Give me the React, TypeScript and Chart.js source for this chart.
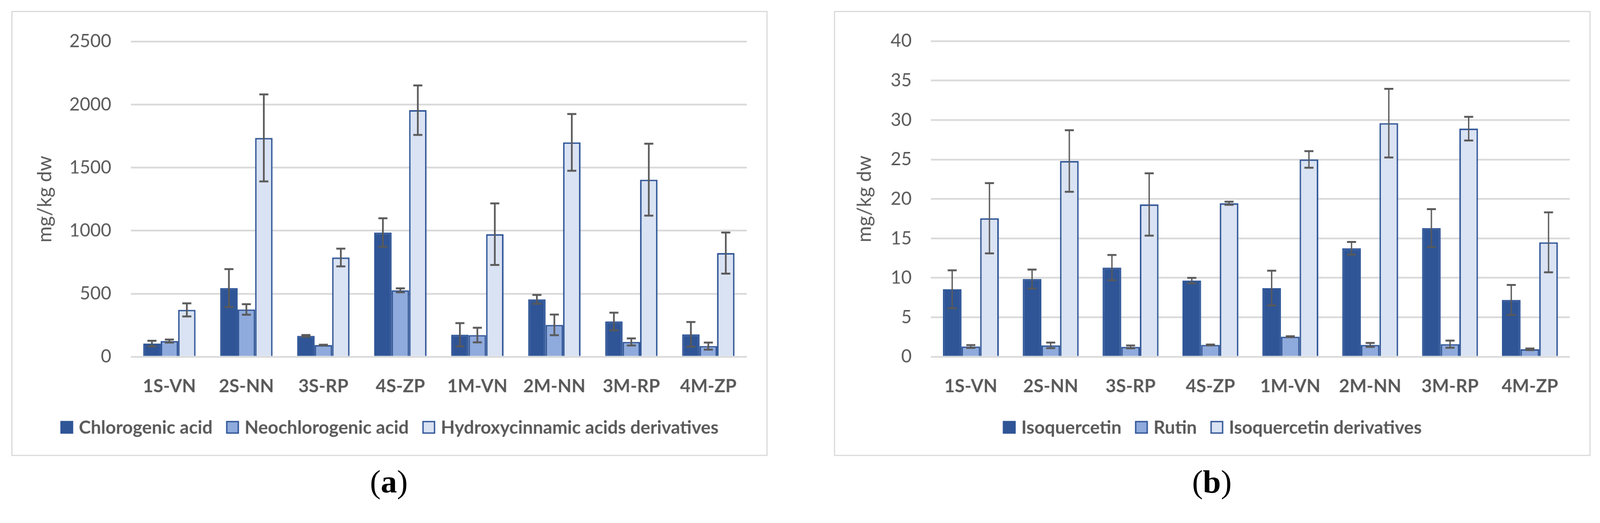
import React, { useEffect, useRef } from 'react';
import { Chart, registerables } from 'chart.js';

Chart.register(...registerables);

const FONT = 'Lato, "Open Sans", "DejaVu Sans", sans-serif';
const TEXT = '#595959';
const GRID = '#D9D9D9';
const DARK = '#2F5597';
const MID = '#8FAADC';
const LIGHT = '#DAE3F3';

// ---------- shared categories ----------
const categories = ['1S-VN', '2S-NN', '3S-RP', '4S-ZP', '1M-VN', '2M-NN', '3M-RP', '4M-ZP'];

// ---------- panel (a) ----------
const seriesNamesA = ['Chlorogenic acid', 'Neochlorogenic acid', 'Hydroxycinnamic acids derivatives'];
const chlorogenicAcid = [105, 545, 166, 985, 175, 455, 280, 178];
const chlorogenicAcidErr = [22, 150, 7, 113, 92, 35, 70, 98];
const neochlorogenicAcid = [125, 375, 93, 527, 172, 253, 118, 85];
const neochlorogenicAcidErr = [12, 42, 3, 16, 58, 82, 28, 28];
const hydroxycinnamicDerivatives = [372, 1735, 787, 1955, 972, 1700, 1404, 822];
const hydroxycinnamicDerivativesErr = [52, 345, 70, 196, 244, 225, 285, 163];
const yMaxA = 2500;
const yStepA = 500;

// ---------- panel (b) ----------
const seriesNamesB = ['Isoquercetin', 'Rutin', 'Isoquercetin derivatives'];
const isoquercetin = [8.55, 9.85, 11.3, 9.65, 8.7, 13.75, 16.3, 7.2];
const isoquercetinErr = [2.4, 1.2, 1.6, 0.35, 2.2, 0.8, 2.4, 1.9];
const rutin = [1.3, 1.45, 1.25, 1.5, 2.55, 1.5, 1.6, 0.95];
const rutinErr = [0.18, 0.35, 0.18, 0.05, 0.05, 0.25, 0.45, 0.1];
const isoquercetinDerivatives = [17.55, 24.8, 19.3, 19.45, 25.0, 29.6, 28.9, 14.5];
const isoquercetinDerivativesErr = [4.45, 3.9, 3.95, 0.2, 1.05, 4.35, 1.5, 3.8];
const yMaxB = 40;
const yStepB = 5;

const yTitle = 'mg/kg dw';

// ---------- plugins ----------
const framePlugin = {
  id: 'frame',
  beforeDraw(chart: any) {
    const { ctx, width, height } = chart;
    ctx.save();
    ctx.fillStyle = '#ffffff';
    ctx.fillRect(0, 0, width, height);
    ctx.strokeStyle = GRID;
    ctx.lineWidth = 3;
    ctx.strokeRect(1.5, 1.5, width - 3, height - 3);
    ctx.restore();
  },
};

const errorBarPlugin = {
  id: 'errorBars',
  afterDatasetsDraw(chart: any, _args: any, opts: any) {
    const { ctx } = chart;
    const y = chart.scales.y;
    ctx.save();
    ctx.strokeStyle = opts.color;
    ctx.lineCap = 'butt';
    chart.data.datasets.forEach((ds: any, di: number) => {
      const errs = ds.errors as number[] | undefined;
      if (!errs) return;
      const meta = chart.getDatasetMeta(di);
      meta.data.forEach((el: any, i: number) => {
        const v = ds.data[i];
        const e = errs[i];
        const x = el.x;
        const yt = y.getPixelForValue(v + e);
        const yb = y.getPixelForValue(Math.max(v - e, 0));
        ctx.lineWidth = opts.stemWidth;
        ctx.beginPath();
        ctx.moveTo(x, yt);
        ctx.lineTo(x, yb);
        ctx.stroke();
        ctx.lineWidth = opts.capThickness;
        ctx.beginPath();
        ctx.moveTo(x - opts.capHalf, yt);
        ctx.lineTo(x + opts.capHalf, yt);
        ctx.moveTo(x - opts.capHalf, yb);
        ctx.lineTo(x + opts.capHalf, yb);
        ctx.stroke();
      });
    });
    ctx.restore();
  },
};

const boxLegendPlugin = {
  id: 'boxLegend',
  afterDraw(chart: any, _args: any, opts: any) {
    const { ctx } = chart;
    ctx.save();
    ctx.font = `bold ${opts.fontSize}px ${FONT}`;
    const items = chart.data.datasets.map((ds: any) => ({
      text: ds.label as string,
      fill: ds.backgroundColor as string,
      stroke: ds.borderColor as string,
      w: ctx.measureText(ds.label).width,
    }));
    const box = opts.boxSize;
    const total =
      items.reduce((s: number, it: any) => s + box + opts.textGap + it.w, 0) +
      opts.itemGap * (items.length - 1);
    let x = chart.width / 2 - total / 2;
    const yc = opts.y;
    items.forEach((it: any) => {
      ctx.fillStyle = it.fill;
      ctx.fillRect(x, yc - box / 2, box, box);
      ctx.strokeStyle = it.stroke;
      ctx.lineWidth = 3.5;
      ctx.strokeRect(x + 1.75, yc - box / 2 + 1.75, box - 3.5, box - 3.5);
      ctx.fillStyle = TEXT;
      ctx.textBaseline = 'middle';
      ctx.textAlign = 'left';
      ctx.fillText(it.text, x + box + opts.textGap, yc + 2);
      x += box + opts.textGap + it.w + opts.itemGap;
    });
    ctx.restore();
  },
};

// ---------- config builder ----------
function makeConfig(p: {
  names: string[];
  values: number[][];
  errors: number[][];
  yMax: number;
  yStep: number;
  padLeft: number;
  padRight: number;
  yWidth: number;
  tickPad: number;
  catPct: number;
  stem: number;
}) {
  const fills = [DARK, MID, LIGHT];
  return {
    type: 'bar' as const,
    data: {
      labels: categories,
      datasets: p.names.map((name, i) => ({
        label: name,
        data: p.values[i],
        errors: p.errors[i],
        backgroundColor: fills[i],
        borderColor: DARK,
        borderWidth: 4,
        borderSkipped: 'start',
        categoryPercentage: p.catPct,
        barPercentage: 1.0,
      })),
    },
    options: {
      responsive: false,
      animation: false as const,
      layout: { padding: { left: p.padLeft, right: p.padRight, top: 59, bottom: 143 } },
      plugins: {
        legend: { display: false },
        tooltip: { enabled: false },
        title: { display: false },
        errorBars: { color: '#595959', stemWidth: p.stem, capThickness: 5, capHalf: 12 },
        boxLegend: { fontSize: 48, boxSize: 34, textGap: 15, itemGap: 36, y: 1104 },
      },
      scales: {
        x: {
          grid: { display: false },
          border: { display: false },
          ticks: {
            color: TEXT,
            padding: 42,
            maxRotation: 0,
            autoSkip: false,
            font: { family: FONT, size: 48, weight: 'bold' as const },
          },
          afterFit: (s: any) => {
            s.height = 120;
          },
        },
        y: {
          min: 0,
          max: p.yMax,
          grid: { color: GRID, lineWidth: 4.5, drawTicks: false },
          border: { display: false },
          ticks: {
            stepSize: p.yStep,
            color: TEXT,
            padding: p.tickPad,
            font: { family: FONT, size: 48 },
            callback: (v: any) => String(v),
          },
          title: {
            display: true,
            text: yTitle,
            color: TEXT,
            padding: { top: 0, bottom: 0 },
            font: { family: FONT, size: 52, weight: 'normal' as const },
          },
          afterFit: (s: any) => {
            s.width = p.yWidth;
          },
        },
      },
    },
    plugins: [framePlugin, errorBarPlugin, boxLegendPlugin],
  };
}

function Panel(props: { left: number; top: number; width: number; height: number; cfg: () => any }) {
  const ref = useRef<HTMLCanvasElement>(null);
  useEffect(() => {
    if (!ref.current) return;
    const chart = new Chart(ref.current, props.cfg());
    return () => chart.destroy();
  }, []);
  return (
    <canvas
      ref={ref}
      width={props.width}
      height={props.height}
      style={{ position: 'absolute', left: props.left, top: props.top, width: props.width, height: props.height }}
    />
  );
}

function SubLabel(props: { letter: string; cx: number }) {
  return (
    <div
      style={{
        position: 'absolute',
        left: props.cx - 150,
        width: 300,
        top: 1234,
        textAlign: 'center',
        fontFamily: '"Liberation Serif", "DejaVu Serif", serif',
        fontSize: 86,
        lineHeight: '86px',
        color: '#000',
      }}
    >
      (<b>{props.letter}</b>)
    </div>
  );
}

const DESIGN_W = 4242;
const DESIGN_H = 1339;

export default function App() {
  const vw = typeof window !== 'undefined' ? window.innerWidth : DESIGN_W;
  const vh = typeof window !== 'undefined' ? window.innerHeight : DESIGN_H;
  const scale = Math.min(vw / DESIGN_W, vh / DESIGN_H) || 1;

  useEffect(() => {
    document.body.style.margin = '0';
    document.body.style.overflow = 'hidden';
    document.documentElement.style.overflow = 'hidden';
  }, []);

  const cfgA = () =>
    makeConfig({
      names: seriesNamesA,
      values: [chlorogenicAcid, neochlorogenicAcid, hydroxycinnamicDerivatives],
      errors: [chlorogenicAcidErr, neochlorogenicAcidErr, hydroxycinnamicDerivativesErr],
      yMax: yMaxA,
      yStep: yStepA,
      padLeft: 58,
      padRight: 55,
      yWidth: 259,
      tickPad: 52,
      catPct: 0.68,
      stem: 4.5,
    });
  const cfgB = () =>
    makeConfig({
      names: seriesNamesB,
      values: [isoquercetin, rutin, isoquercetinDerivatives],
      errors: [isoquercetinErr, rutinErr, isoquercetinDerivativesErr],
      yMax: yMaxB,
      yStep: yStepB,
      padLeft: 50,
      padRight: 55,
      yWidth: 207,
      tickPad: 51,
      catPct: 0.7,
      stem: 3.5,
    });
  return (
    <div
      style={{
        position: 'absolute',
        left: 0,
        top: 0,
        width: DESIGN_W,
        height: DESIGN_H,
        background: '#ffffff',
        overflow: 'hidden',
        transform: `scale(${scale})`,
        transformOrigin: '0 0',
      }}
    >
      <Panel left={30} top={29} width={2005} height={1180} cfg={cfgA} />
      <Panel left={2211} top={29} width={2006} height={1180} cfg={cfgB} />
      <SubLabel letter="a" cx={1031} />
      <SubLabel letter="b" cx={3213} />
    </div>
  );
}
